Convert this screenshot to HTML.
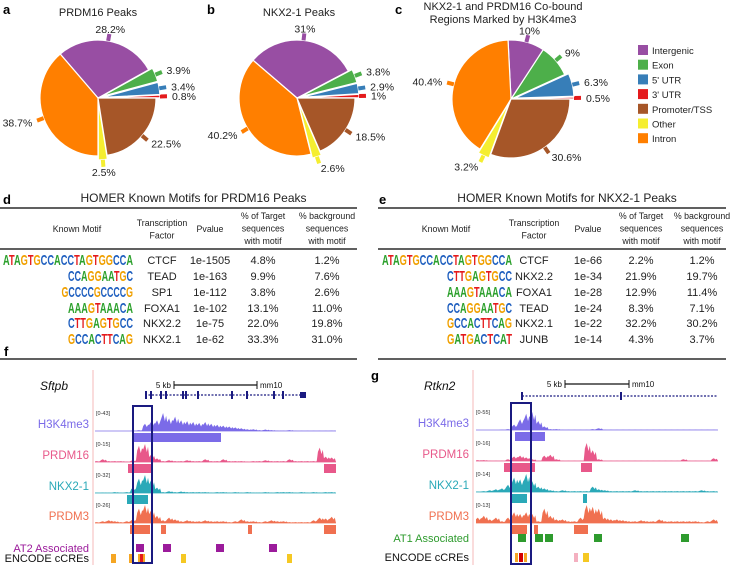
<!DOCTYPE html>
<html><head><meta charset="utf-8"><style>
body{margin:0;background:#fff}
svg{display:block;font-family:"Liberation Sans",Arial,sans-serif}
</style></head><body>
<svg id="fig" width="732" height="565" viewBox="0 0 732 565">
<g font-weight="bold" font-size="13" fill="#000">
<text x="3" y="14">a</text>
<text x="207" y="14">b</text>
<text x="395" y="14">c</text>
<text x="3" y="204">d</text>
<text x="379" y="204">e</text>
<text x="4" y="356">f</text>
<text x="371" y="380">g</text>
</g>
<g font-size="11" fill="#222" text-anchor="middle">
<text x="98" y="16">PRDM16 Peaks</text>
<text x="299" y="16">NKX2-1 Peaks</text>
<text x="503" y="10">NKX2-1 and PRDM16 Co-bound</text>
<text x="503" y="23">Regions Marked by H3K4me3</text>
</g>
<g id="pies"></g>
<g id="legend"></g>
<g id="tables"></g>
<g id="tracks"></g>
</svg>
<script>
const NS="http://www.w3.org/2000/svg";
function mk(tag,attrs,parent,txt){const e=document.createElementNS(NS,tag);for(const k in attrs)e.setAttribute(k,attrs[k]);if(txt!==undefined)e.textContent=txt;parent.appendChild(e);return e;}

// ---- pie data ----
const pieCategories=["3' UTR","5' UTR","Exon","Intergenic","Intron","Other","Promoter/TSS"];
const pieColors=["#e41a1c","#377eb8","#4daf4a","#984ea3","#ff7f00","#f5ee30","#a65628"];
const pieA=[0.8,3.4,3.9,28.2,38.7,2.5,22.5];
const pieB=[1,2.9,3.8,31,40.2,2.6,18.5];
const pieC=[0.5,6.3,9,10,40.4,3.2,30.6];
const pieLabelsA=["0.8%","3.4%","3.9%","28.2%","38.7%","2.5%","22.5%"];
const pieLabelsB=["1%","2.9%","3.8%","31%","40.2%","2.6%","18.5%"];
const pieLabelsC=["0.5%","6.3%","9%","10%","40.4%","3.2%","30.6%"];
const legendOrder=["Intergenic","Exon","5' UTR","3' UTR","Promoter/TSS","Other","Intron"];

const pies=document.getElementById('pies');
function drawPie(vals,labels,cx,cy,r,name){
  const g=mk('g',{},pies);
  
  
  const tot=vals.reduce((a,b)=>a+b,0);
  let a0=0;
  vals.forEach((v,i)=>{
    const a1=a0+v/tot*2*Math.PI;
    const mid=(a0+a1)/2;
    const ex=v<7?4:0;
    const ox=cx+ex*Math.cos(mid), oy=cy-ex*Math.sin(mid);
    const x0=ox+r*Math.cos(a0),y0=oy-r*Math.sin(a0),x1=ox+r*Math.cos(a1),y1=oy-r*Math.sin(a1);
    const large=(a1-a0)>Math.PI?1:0;
    const p=mk('path',{d:`M${ox},${oy} L${x0},${y0} A${r},${r} 0 ${large} 0 ${x1},${y1} Z`,fill:pieColors[i],stroke:'#fff','stroke-width':1.2},g);
    
    
    const tx0=ox+r*Math.cos(mid),ty0=oy-r*Math.sin(mid),tx1=ox+(r+7)*Math.cos(mid),ty1=oy-(r+7)*Math.sin(mid);
    mk('line',{x1:tx0,y1:ty0,x2:tx1,y2:ty1,stroke:pieColors[i],'stroke-width':4},g);
    const lr=r+12;
    const lx=ox+lr*Math.cos(mid),ly=oy-lr*Math.sin(mid)+4;
    const c=Math.cos(mid);
    const t=mk('text',{x:lx,y:ly,'font-size':10.5,fill:'#222','text-anchor':c>0.3?'start':(c<-0.3?'end':'middle')},g,labels[i]);
    
    
    a0=a1;
  });
}
drawPie(pieA,pieLabelsA,98,98,58,'pie-prdm16-peaks');
drawPie(pieB,pieLabelsB,297,98,58,'pie-nkx2-1-peaks');
drawPie(pieC,pieLabelsC,511,99,59,'pie-cobound-h3k4me3');

const leg=document.getElementById('legend');
legendOrder.forEach((c,i)=>{
  const idx=pieCategories.indexOf(c);
  const y=45+i*14.7;
  const r=mk('rect',{x:638,y:y,width:10,height:10,fill:pieColors[idx]},leg);
  
  
  const t=mk('text',{x:652,y:y+9,'font-size':9.5,fill:'#222'},leg,c);
  
  
});

// ---- tables ----
const tfD=["CTCF","TEAD","SP1","FOXA1","NKX2.2","NKX2.1"];
const pD=["1e-1505","1e-163","1e-112","1e-102","1e-75","1e-62"];
const tgtD=["4.8%","9.9%","3.8%","13.1%","22.0%","33.3%"];
const bgD=["1.2%","7.6%","2.6%","11.0%","19.8%","31.0%"];
const motifD=["ATAGTGCCACCTAGTGGCCA","CCAGGAATGC","GCCCCGCCCCG","AAAGTAAACA","CTTGAGTGCC","GCCACTTCAG"];
const tfE=["CTCF","NKX2.2","FOXA1","TEAD","NKX2.1","JUNB"];
const pE=["1e-66","1e-34","1e-28","1e-24","1e-22","1e-14"];
const tgtE=["2.2%","21.9%","12.9%","8.3%","32.2%","4.3%"];
const bgE=["1.2%","19.7%","11.4%","7.1%","30.2%","3.7%"];
const motifE=["ATAGTGCCACCTAGTGGCCA","CTTGAGTGCC","AAAGTAAACA","CCAGGAATGC","GCCACTTCAG","GATGACTCAT"];
const baseCol={A:"#2ca02c",C:"#1f5fbf",G:"#f0a000",T:"#e41a1c"};
const tbl=document.getElementById('tables');
function drawTable(ox,w,title,motifs,tf,pv,tg,bg,name,cols,motifRight){
  const g=mk('g',{'font-size':10.5,fill:'#222'},tbl);
  
  
  const tt=mk('text',{x:ox+w/2+15,y:202,'font-size':12,'text-anchor':'middle'},g,title);
  
  
  mk('line',{x1:ox,x2:ox+w,y1:208,y2:208,stroke:'#000','stroke-width':1.3},g);
  mk('line',{x1:ox,x2:ox+w,y1:249,y2:249,stroke:'#000','stroke-width':1.3},g);
  mk('line',{x1:ox,x2:ox+w,y1:359,y2:359,stroke:'#000','stroke-width':1.3},g);
  const hdr=[[["Known Motif"],232],[["Transcription","Factor"],226],[["Pvalue"],232],[["% of Target","sequences","with motif"],219],[["% background","sequences","with motif"],219]];
  hdr.forEach((h,i)=>{h[0].forEach((s,j)=>{const t=mk('text',{x:cols[i],y:h[1]+j*12.5,'font-size':8.8,'text-anchor':'middle'},g,s);});});
  const rowY=[262,278,294,310,325,341];
  motifs.forEach((m,i)=>{
    const y=rowY[i]+3;
    const lw=m.length*6.5;
    const t=mk('text',{x:motifRight-lw,y:y,'font-size':15,'font-weight':'bold',textLength:lw,lengthAdjust:'spacingAndGlyphs'},g);
    
    
    for(const ch of m){mk('tspan',{fill:baseCol[ch]},t,ch);}
    [[tf[i],1],[pv[i],2],[tg[i],3],[bg[i],4]].forEach(([s,c])=>{const e=mk('text',{x:cols[c],y:rowY[i]+2,'font-size':11,'text-anchor':'middle'},g,s);});
  });
}
drawTable(0,357,"HOMER Known Motifs for PRDM16 Peaks",motifD,tfD,pD,tgtD,bgD,'table-prdm16-motifs',[77,162,210,263,327],133);
drawTable(378,348,"HOMER Known Motifs for NKX2-1 Peaks",motifE,tfE,pE,tgtE,bgE,'table-nkx2-1-motifs',[446,534,588,641,702],512);

// ---- genome tracks ----
const fH3=[0,0,0,0,0,0,0.02,0.05,0.4,0.5,0.6,1.0,0.7,0.8,0.6,0.55,0.5,0.45,0.5,0.4,0.35,0.3,0.25,0.2,0.15,0.1,0.1,0.05,0.08,0.05,0.03,0.03,0.05,0.02,0.02,0.02,0.02,0.02,0.02,0.03];
const fPR16=[0.05,0.15,0.05,0.05,0.05,0.03,0.1,0.9,1.0,0.4,0.2,0.05,0.1,0.05,0.05,0.1,0.05,0.05,0.15,0.05,0.05,0.15,0.05,0.05,0.05,0.03,0.05,0.05,0.1,0.05,0.05,0.05,0.15,0.05,0.05,0.05,0.05,0.8,0.3,0.25];
const fNKX=[0.02,0.03,0.02,0.05,0.03,0.05,0.3,0.8,1.0,0.7,0.3,0.05,0.1,0.05,0.08,0.05,0.05,0.05,0.05,0.03,0.05,0.05,0.03,0.05,0.03,0.05,0.03,0.03,0.05,0.03,0.05,0.05,0.05,0.03,0.05,0.03,0.05,0.03,0.05,0.05];
const fPR3=[0.05,0.1,0.15,0.1,0.05,0.1,0.2,0.8,1.0,0.7,0.4,0.15,0.3,0.2,0.1,0.15,0.1,0.1,0.15,0.1,0.1,0.1,0.05,0.1,0.2,0.1,0.1,0.05,0.1,0.15,0.1,0.1,0.05,0.05,0.05,0.05,0.15,0.3,0.25,0.35];
const gH3=[0,0,0,0,0.02,0.05,0.3,0.6,0.9,1.0,0.5,0.2,0.05,0.05,0.02,0.02,0.02,0.02,0.02,0.05,0.1,0.02,0.02,0.02,0.02,0.02,0.02,0.02,0.02,0.02,0.02,0.02,0.02,0.02,0.02,0.02,0.02,0.02,0.02,0.02];
const gPR16=[0.05,0.05,0.02,0.02,0.02,0.1,0.25,0.3,0.2,0.1,0.02,0.3,0.35,0.1,0.02,0.02,0.02,0.02,1.0,0.6,0.1,0.02,0.02,0.02,0.02,0.02,0.02,0.02,0.02,0.02,0.02,0.02,0.02,0.02,0.1,0.02,0.02,0.02,0.02,0.15];
const gNKX=[0.03,0.05,0.1,0.15,0.2,0.4,0.8,0.7,1.0,0.6,0.3,0.2,0.1,0.05,0.1,0.05,0.05,0.05,0.05,0.3,0.15,0.1,0.05,0.05,0.05,0.05,0.1,0.05,0.05,0.05,0.05,0.05,0.05,0.05,0.05,0.05,0.05,0.1,0.05,0.05];
const gPR3=[0.3,0.4,0.2,0.3,0.1,0.3,0.6,0.5,0.6,0.5,0.1,0.8,0.4,0.2,0.2,0.1,0.1,0.3,1.0,0.9,0.8,0.3,0.2,0.2,0.15,0.1,0.1,0.15,0.1,0.1,0.2,0.1,0.1,0.1,0.1,0.1,0.1,0.05,0.1,0.2];
const trackNames=["H3K4me3","PRDM16","NKX2-1","PRDM3"];
const trackColors=["#7b6be8","#e8588a","#2aa9b8","#f07050"];
const fRanges=["[0-43]","[0-15]","[0-32]","[0-26]"];
const gRanges=["[0-55]","[0-16]","[0-14]","[0-13]"];

const tr=document.getElementById('tracks');
function panel(o){
  const g=mk('g',{},tr);
  
  
  mk('line',{x1:o.vx,x2:o.vx,y1:o.vy0,y2:565,stroke:'#f4b8b8','stroke-width':1},g);
  const gn=mk('text',{x:o.gx,y:390,'font-size':12,'font-style':'italic',fill:'#111'},g,o.gene);
  
  
  mk('text',{x:o.sb0-3,y:o.sby+3,'font-size':8,'text-anchor':'end',fill:'#111'},g,"5 kb");
  mk('line',{x1:o.sb0,x2:o.sb1,y1:o.sby,y2:o.sby,stroke:'#111','stroke-width':1.3},g);
  mk('line',{x1:o.sb0,x2:o.sb0,y1:o.sby-4,y2:o.sby+4,stroke:'#111'},g);
  mk('line',{x1:o.sb1,x2:o.sb1,y1:o.sby-4,y2:o.sby+4,stroke:'#111'},g);
  mk('text',{x:o.sb1+3,y:o.sby+3,'font-size':8,fill:'#111'},g,"mm10");
  const gm=mk('g',{},g);
  
  
  mk('line',{x1:o.gm0,x2:o.gm1,y1:o.gmy,y2:o.gmy,stroke:'#1a1a80','stroke-width':1.2,'stroke-dasharray':'2 1.5'},gm);
  o.exons.forEach(x=>mk('rect',{x:x,y:o.gmy-4,width:2,height:8,fill:'#1a1a80'},gm));
  if(o.endBox)mk('rect',{x:o.endBox,y:o.gmy-3,width:6,height:6,fill:'#1a1a80'},gm);
  o.signals.forEach((vals,k)=>{
    const base=o.bases[k], h=18, x0=o.sx0, bw=(o.sx1-o.sx0)/vals.length;
    const tg=mk('g',{},g);
    
    
    const lb=mk('text',{x:o.vx-4,y:base-3,'font-size':11.5,'text-anchor':'end',fill:trackColors[k]},tg,trackNames[k]);
    
    
    mk('text',{x:o.vx+3,y:base-h+2,'font-size':5.5,fill:'#333'},tg,o.ranges[k]);
    let d=`M${x0},${base}`;
    vals.forEach((v,i)=>{
      const xa=x0+i*bw;
      d+=` L${xa},${base-v*h*0.7} L${xa+bw*0.3},${base-v*h} L${xa+bw*0.6},${base-v*h*0.55} L${xa+bw*0.8},${base-v*h*0.85}`;
    });
    d+=` L${o.sx1},${base} Z`;
    mk('path',{d:d,fill:trackColors[k],stroke:'none'},tg);
    mk('line',{x1:x0,x2:o.sx1,y1:base,y2:base,stroke:trackColors[k],'stroke-width':0.8},tg);
    o.peaks[k].forEach(p=>{const r=mk('rect',{x:p[0],y:base+2,width:p[1]-p[0],height:9,fill:trackColors[k]},tg);});
  });
  const al=mk('text',{x:o.vx-4,y:o.assocY+8,'font-size':11,'text-anchor':'end',fill:o.assocCol},g,o.assocName);
  
  
  o.assoc.forEach(x=>{const r=mk('rect',{x:x,y:o.assocY,width:8,height:8,fill:o.assocCol},g);});
  const el=mk('text',{x:o.vx-4,y:o.encY+8,'font-size':11,'text-anchor':'end',fill:'#111'},g,"ENCODE cCREs");
  
  
  o.enc.forEach(e=>{const r=mk('rect',{x:e[0],y:o.encY,width:e[1],height:9,fill:e[2]},g);});
  const hb=mk('rect',{x:o.box[0],y:o.box[1],width:o.box[2],height:o.box[3],fill:'none',stroke:'#1a1a80','stroke-width':2},g);
  
  
}
panel({name:'browser-sftpb',vx:93,vy0:370,gene:'Sftpb',gx:40,sb0:174,sb1:257,sby:385,gm0:145,gm1:306,gmy:395,
  exons:[145,150,160,165,182,185,197,231,246,273,282],endBox:300,
  signals:[fH3,fPR16,fNKX,fPR3],bases:[431,462,493,523],ranges:fRanges,sx0:95,sx1:336,
  peaks:[[[133,221]],[[128,153],[324,336]],[[127,148]],[[130,150],[161,166],[248,252],[324,336]]],
  assocName:'AT2 Associated',assocCol:'#9b1b9b',assocY:544,assoc:[136,163,216,269],
  encY:554,enc:[[111,5,'#f5a623'],[129,4,'#f5a623'],[138,2,'#f5a623'],[140,3,'#e41a1c'],[143,2,'#f5a623'],[181,5,'#f5c823'],[287,5,'#f5c823']],
  box:[133,406,19,157]});
panel({name:'browser-rtkn2',vx:473,vy0:370,gene:'Rtkn2',gx:424,sb0:565,sb1:629,sby:384,gm0:522,gm1:718,gmy:396,
  exons:[521,620],endBox:null,
  signals:[gH3,gPR16,gNKX,gPR3],bases:[430,461,492,523],ranges:gRanges,sx0:476,sx1:718,
  peaks:[[[515,545]],[[504,535],[581,592]],[[511,527],[583,587]],[[512,527],[534,538],[574,588]]],
  assocName:'AT1 Associated',assocCol:'#2e9b2e',assocY:534,assoc:[518,535,545,594,681],
  encY:553,enc:[[515,3,'#f5a623'],[519,4,'#d40000'],[524,3,'#f5a623'],[574,4,'#f4b0c0'],[583,6,'#f5c823']],
  box:[511,403,20,161]});
</script>
</body></html>
